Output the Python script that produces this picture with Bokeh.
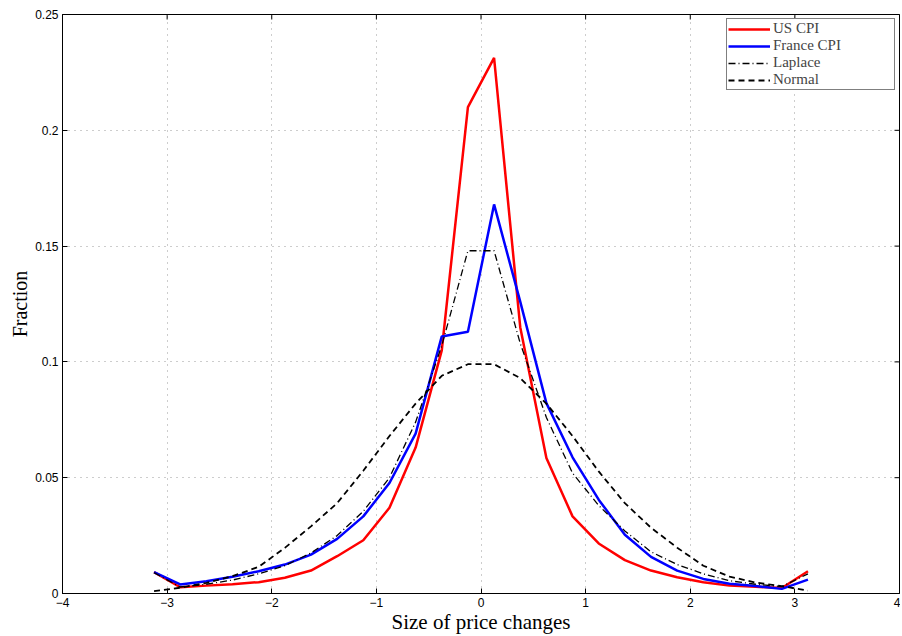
import math
from bokeh.plotting import figure
from bokeh.models import Legend, LegendItem, FixedTicker, Range1d, ColumnDataSource
from bokeh.embed import file_html
from bokeh.resources import INLINE

# bin centres of price-change sizes
size_bins = [-3.125, -2.875, -2.625, -2.375, -2.125, -1.875, -1.625, -1.375, -1.125,
             -0.875, -0.625, -0.375, -0.125, 0.125, 0.375, 0.625, 0.875, 1.125,
             1.375, 1.625, 1.875, 2.125, 2.375, 2.625, 2.875, 3.125]

us_cpi = [0.0092, 0.0027, 0.0034, 0.0040, 0.0049, 0.0068, 0.0099, 0.0161, 0.0230,
          0.0370, 0.0630, 0.1050, 0.2100, 0.2313, 0.1150, 0.0585, 0.0333, 0.0216,
          0.0144, 0.0099, 0.0070, 0.0049, 0.0034, 0.0029, 0.0024, 0.0096]

france_cpi = [0.0092, 0.0039, 0.0053, 0.0072, 0.0096, 0.0125, 0.0168, 0.0236, 0.0333,
              0.0477, 0.0690, 0.1110, 0.1130, 0.1680, 0.1260, 0.0822, 0.0588, 0.0405,
              0.0254, 0.0158, 0.0099, 0.0063, 0.0042, 0.0032, 0.0020, 0.0060]

laplace = [0.0090, 0.0028, 0.0040, 0.0058, 0.0085, 0.0120, 0.0175, 0.0250, 0.0355,
           0.0500, 0.0740, 0.1070, 0.1480, 0.1480, 0.1080, 0.0760, 0.0520, 0.0380,
           0.0270, 0.0180, 0.0125, 0.0085, 0.0055, 0.0040, 0.0030, 0.0085]

normal = [0.0010, 0.0025, 0.0046, 0.0075, 0.0115, 0.0197, 0.0290, 0.0390, 0.0530,
          0.0680, 0.0820, 0.0940, 0.0990, 0.0990, 0.0930, 0.0820, 0.0680, 0.0527,
          0.0390, 0.0284, 0.0198, 0.0120, 0.0073, 0.0047, 0.0032, 0.0012]

x_ticks = [-4, -3, -2, -1, 0, 1, 2, 3, 4]
x_tick_labels = ["\u22124", "\u22123", "\u22122", "\u22121", "0", "1", "2", "3", "4"]
y_ticks = [0, 0.05, 0.1, 0.15, 0.2, 0.25]
y_tick_labels = ["0", "0.05", "0.1", "0.15", "0.2", "0.25"]
x_lo, x_hi = x_ticks[0], x_ticks[-1]
y_lo, y_hi = y_ticks[0], y_ticks[-1]

src = ColumnDataSource(dict(x=size_bins, us=us_cpi, fr=france_cpi, lap=laplace, nor=normal))

p = figure(width=900, height=636, x_range=Range1d(x_lo, x_hi), y_range=Range1d(y_lo, y_hi),
           output_backend="svg", toolbar_location=None,
           min_border_left=62, min_border_right=1, min_border_top=14, min_border_bottom=42)

p.background_fill_color = "white"
p.border_fill_color = "white"
p.outline_line_color = "black"
p.outline_line_width = 1

SANS = "Liberation Sans"
SERIF = "Liberation Serif"

def style_axis(ax, ticks, labels):
    ax.ticker = FixedTicker(ticks=ticks)
    ax.major_label_overrides = {t: l for t, l in zip(ticks, labels)}
    ax.major_tick_in = 5
    ax.major_tick_out = 0
    ax.minor_tick_in = 0
    ax.minor_tick_out = 0
    ax.axis_line_color = "black"
    ax.axis_line_width = 1
    ax.major_tick_line_color = "black"
    ax.major_label_text_font = SANS
    ax.major_label_text_color = "black"
    ax.major_label_text_font_size = "12px"
    ax.major_label_standoff = 4
    ax.axis_label_text_font = SERIF
    ax.axis_label_text_font_style = "normal"
    ax.axis_label_text_color = "black"

style_axis(p.xaxis[0], x_ticks, x_tick_labels)
style_axis(p.yaxis[0], y_ticks, y_tick_labels)
p.xaxis[0].axis_label = "Size of price changes"
p.yaxis[0].axis_label = "Fraction"
p.xaxis[0].axis_label_text_font_size = "21px"
p.yaxis[0].axis_label_text_font_size = "20px"
p.xaxis[0].axis_label_standoff = 0
p.yaxis[0].axis_label_standoff = 1

p.xgrid.ticker = FixedTicker(ticks=x_ticks)
p.ygrid.ticker = FixedTicker(ticks=y_ticks)
for g in (p.xgrid[0], p.ygrid[0]):
    g.grid_line_color = "#9a9a9a"
    g.grid_line_dash = "1 5"
    g.grid_line_width = 1

# inward tick marks on the top and right edges of the box (clipped to the frame)
p.scatter(x=x_ticks, y=[y_hi] * len(x_ticks), marker="dash", angle=math.pi / 2,
          size=10, line_color="black", line_width=1)
p.scatter(x=[x_hi] * len(y_ticks), y=y_ticks, marker="dash",
          size=10, line_color="black", line_width=1)

r_us = p.line("x", "us", source=src, line_color="#ff0000", line_width=2.5)
r_fr = p.line("x", "fr", source=src, line_color="#0000ff", line_width=2.5)
r_lap = p.line("x", "lap", source=src, line_color="black", line_width=1.3, line_dash="7 3 1 3")
r_nor = p.line("x", "nor", source=src, line_color="black", line_width=1.8, line_dash="6 4")

legend = Legend(items=[LegendItem(label="US CPI", renderers=[r_us]),
                       LegendItem(label="France CPI", renderers=[r_fr]),
                       LegendItem(label="Laplace", renderers=[r_lap]),
                       LegendItem(label="Normal", renderers=[r_nor])],
                location="top_right", margin=4, padding=1, spacing=0,
                border_line_color="black", border_line_width=1,
                background_fill_color="white", background_fill_alpha=1,
                label_text_font=SERIF, label_text_font_size="15px",
                label_height=14, glyph_height=14, glyph_width=42,
                label_standoff=3, label_width=120)
p.add_layout(legend)

open("out.html", "w").write(file_html(p, INLINE))
